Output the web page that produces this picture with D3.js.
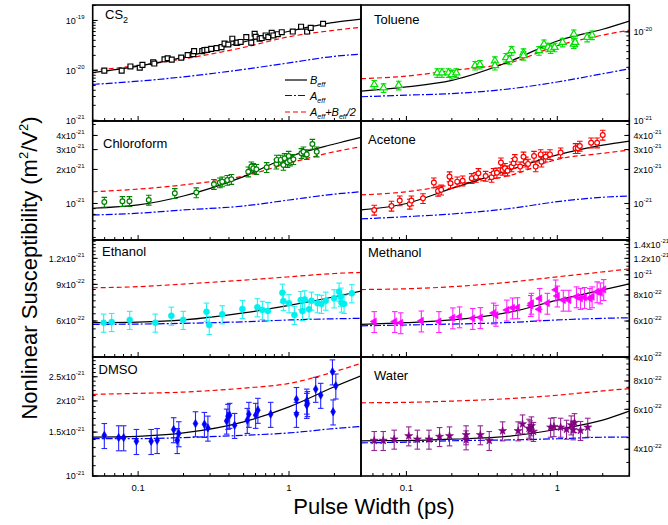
<!DOCTYPE html>
<html>
<head>
<meta charset="utf-8">
<script src="https://cdn.jsdelivr.net/npm/d3@7"></script>
<style>
  body { margin: 0; background: #fff; }
  text { font-family: "Liberation Sans", Arial, sans-serif; }
</style>
</head>
<body>
<script>
// ---- data (pulse width in ps, susceptibility in the panel unit) ----
var fitX = [0.05, 0.1, 0.2, 0.5, 1, 2, 3];

// CS2, x1e-20
var cs2X = [0.0597,0.0778,0.0889,0.1025,0.1068,0.1258,0.128,0.1496,0.157,0.167,0.193,0.213,0.232,0.235,0.266,0.275,0.287,0.305,0.331,0.357,0.374,0.396,0.421,0.448,0.454,0.478,0.521,0.562,0.592,0.601,0.639,0.659,0.700,0.729,0.768,0.788,0.842,0.895,1.059,1.202,1.318,1.393,1.682];
var cs2Y = [0.99,0.99,1.2,1.13,1.29,1.46,1.37,1.67,1.75,1.64,1.80,2.03,2.12,2.43,2.43,2.55,2.58,2.70,2.79,2.92,3.44,3.30,4.31,3.54,3.60,3.71,4.64,3.60,5.41,4.72,4.31,4.44,5.01,4.64,5.66,5.01,5.31,5.82,6.0,7.5,6.0,7.1,8.6];
var cs2B = [0.90,1.22,1.83,3.71,6.08,9.14,10.65];
var cs2A = [0.525,0.608,0.743,1.047,1.416,1.915,2.125];
var cs2AB = [1.0,1.25,1.70,2.88,4.72,6.37,7.29];

// Toluene, x1e-21
var tolX = [0.0612,0.0705,0.0889,0.160,0.172,0.190,0.200,0.214,0.285,0.307,0.386,0.386,0.458,0.482,0.498,0.597,0.597,0.756,0.816,0.867,0.903,0.960,1.084,1.286,1.286,1.314,1.577,1.701];
var tolY = [2.56,2.35,2.51,3.47,3.47,3.47,3.33,3.47,4.19,4.30,4.72,4.19,5.14,4.88,6.15,5.80,5.41,6.15,7.30,6.71,6.42,6.71,7.62,9.43,7.30,7.62,8.67,9.19];
var tolB = [2.16,2.41,2.86,4.76,7.9,10.7,13.2];
var tolA = [1.87,1.95,2.03,2.31,2.74,3.39,3.85];
var tolAB = [2.98,3.19,3.69,4.57,6.99,9.19,10.44];

// Chloroform, x1e-21
var chlX = [0.0597,0.0787,0.0876,0.1176,0.175,0.243,0.318,0.348,0.361,0.390,0.415,0.537,0.563,0.580,0.608,0.711,0.825,0.829,0.881,0.918,0.936,0.976,0.995,1.016,1.069,1.208,1.247,1.311,1.429,1.527];
var chlY = [1.03,1.045,1.045,1.074,1.23,1.25,1.48,1.53,1.56,1.61,1.64,1.91,2.12,2.05,2.01,2.09,2.24,2.43,2.43,2.19,2.51,2.32,2.63,2.39,2.46,2.78,2.87,2.72,3.36,2.87];
var chlB = [0.907,0.97,1.165,1.73,2.59,3.36,3.85];
var chlA = [0.79,0.82,0.876,0.95,1.074,1.21,1.27];
var chlAB = [1.27,1.34,1.46,1.75,2.27,2.87,3.18];

// Acetone, x1e-21
var aceX = [0.0612,0.0796,0.0903,0.1052,0.1079,0.1288,0.152,0.162,0.170,0.193,0.196,0.217,0.236,0.271,0.289,0.300,0.335,0.367,0.378,0.398,0.423,0.434,0.450,0.468,0.498,0.513,0.523,0.567,0.597,0.618,0.640,0.701,0.719,0.776,0.785,0.838,0.894,1.052,1.321,1.368,1.41,1.675,1.836,2.0];
var aceY = [0.876,0.95,1.06,0.99,1.06,1.11,1.53,1.29,1.32,1.73,1.51,1.56,1.59,1.67,1.71,1.85,1.75,1.71,1.85,1.87,2.30,1.98,2.05,1.95,2.12,2.27,2.46,2.12,2.59,2.34,2.24,2.63,2.12,2.72,2.34,2.59,2.72,2.82,3.08,3.08,3.23,3.45,3.45,4.04];
var aceB = [0.876,1.0,1.36,2.01,2.69,3.29,3.57];
var aceA = [0.73,0.764,0.807,0.907,1.037,1.135,1.165];
var aceAB = [1.19,1.27,1.46,1.79,2.46,2.78,2.97];

// Ethanol, x1e-22
var ethX = [0.0591,0.0668,0.0880,0.130,0.166,0.199,0.284,0.296,0.361,0.491,0.617,0.666,0.725,0.904,0.918,1.0,1.086,1.196,1.227,1.271,1.358,1.409,1.544,1.641,1.753,1.99,2.148,2.204,2.228,2.318,2.608];
var ethY = [5.89,5.93,6.07,5.89,6.36,6.07,6.65,5.74,6.46,6.85,6.98,6.78,6.70,8.20,7.48,7.30,6.42,7.56,6.70,7.62,6.83,7.51,7.30,7.25,7.51,7.71,8.30,7.85,7.35,7.25,8.15];
var ethB = [5.89,5.93,6.07,6.56,7.13,7.85,8.36];
var ethA = [5.78,5.80,5.85,5.95,6.07,6.15,6.18];
var ethAB = [8.67,8.77,9.03,9.43,9.78,10.15,10.27];

// Methanol, x1e-22
var metX = [0.0612,0.0837,0.0917,0.1256,0.1643,0.203,0.225,0.275,0.309,0.378,0.392,0.463,0.505,0.545,0.667,0.674,0.756,0.764,0.859,0.975,1.0,1.096,1.193,1.34,1.425,1.514,1.641,1.701,1.836,1.929,2.03];
var metY = [5.97,5.97,5.89,6.01,5.97,6.22,6.29,6.18,6.24,6.56,6.40,6.78,6.94,6.96,7.13,7.31,6.83,7.71,7.31,8.47,7.92,7.56,7.56,7.85,7.71,7.79,7.71,7.85,8.30,8.20,8.51];
var metB = [5.78,5.89,6.07,6.65,7.56,8.47,9.05];
var metA = [5.69,5.74,5.80,5.91,6.07,6.18,6.22];
var metAB = [8.50,8.57,8.77,9.25,9.78,10.33,10.68];

// DMSO, x1e-21
var dmsX = [0.0597,0.0743,0.0802,0.0974,0.122,0.1337,0.172,0.1816,0.186,0.240,0.275,0.290,0.386,0.394,0.404,0.436,0.529,0.542,0.601,0.622,0.756,1.12,1.12,1.311,1.311,1.324,1.503,1.622,1.941,1.96,2.043];
var dmsY = [1.456,1.426,1.426,1.378,1.378,1.39,1.536,1.39,1.48,1.623,1.613,1.559,1.663,1.738,1.754,1.598,1.674,1.770,1.754,1.837,1.770,2.03,1.770,2.0,1.923,1.955,2.23,2.11,2.62,1.81,2.30];
var dmsB = [1.433,1.443,1.488,1.648,1.893,2.28,2.52];
var dmsA = [1.412,1.412,1.426,1.456,1.488,1.55,1.58];
var dmsAB = [2.125,2.145,2.17,2.25,2.35,2.62,2.83];

// Water, x1e-22
var watX = [0.0612,0.0702,0.083,0.1036,0.1182,0.1411,0.1658,0.193,0.2486,0.2486,0.309,0.354,0.434,0.550,0.588,0.650,0.660,0.674,0.695,0.903,0.950,1.052,1.151,1.236,1.274,1.30,1.425,1.591];
var watY = [4.37,4.37,4.43,4.58,4.43,4.43,4.55,4.58,4.63,4.40,4.63,4.37,4.82,4.82,5.17,4.95,4.87,5.07,4.79,5.0,5.03,5.0,4.90,5.12,4.87,5.24,4.84,5.0];
var watB = [4.36,4.37,4.43,4.58,4.90,5.38,5.89];
var watA = [4.27,4.30,4.36,4.40,4.45,4.52,4.53];
var watAB = [6.41,6.44,6.52,6.70,6.92,7.23,7.40];

// relative error bars
var errRel = {cs2: 0, tol: 0.11, chl: 0.10, ace: 0.10, eth: 0.10, met: 0.115, dms: 0.115, wat: 0.096};

// labelled y ticks
var cs2Ticks = [1e-21, 1e-20, 1e-19];
var tolTicks = [1e-21, 1e-20];
var chlTicks = [1e-21, 2e-21, 3e-21, 4e-21];
var aceTicks = [1e-21, 2e-21, 3e-21, 4e-21];
var ethTicks = [6e-22, 9e-22, 1.2e-21];
var metTicks = [4e-22, 6e-22, 8e-22, 1e-21, 1.2e-21, 1.4e-21];
var dmsTicks = [1e-21, 1.5e-21, 2e-21, 2.5e-21];
var watTicks = [4e-22, 6e-22, 8e-22];
var xMajor = [0.1, 1];

// ---- layout ----
var W = 668, H = 525;
var colX = [92.7, 361, 629.3];
var rowY = [5, 121, 240, 357, 476];

function logMinor(lo, hi) {
    var out = [];
    for (var e = -23; e <= -18; e++)
        for (var k = 1; k <= 9; k++) {
            var v = k * Math.pow(10, e);
            if (v >= lo && v <= hi) out.push(v);
        }
    return out;
}
function steps(a, b, s, unit) {
    return d3.range(a, b + s / 2, s).map(function (v) { return v * unit; });
}

var panels = [
    {key: "cs2", label: "CS", sub: "2", col: 0, row: 0, unit: 1e-20, xs: cs2X, ys: cs2Y, B: cs2B, A: cs2A, AB: cs2AB,
        dom: [9.7e-22, 2.04e-19], ticks: cs2Ticks, minor: logMinor(9.7e-22, 2.04e-19), mark: "square", color: "#000", open: true, lx: 105, ly: 18.5},
    {key: "tol", label: "Toluene", col: 1, row: 0, unit: 1e-21, xs: tolX, ys: tolY, B: tolB, A: tolA, AB: tolAB,
        dom: [1e-21, 2e-20], ticks: tolTicks, minor: logMinor(1e-21, 2e-20), mark: "triangle", color: "#00e000", open: true, lx: 374, ly: 24},
    {key: "chl", label: "Chloroform", col: 0, row: 1, unit: 1e-21, xs: chlX, ys: chlY, B: chlB, A: chlA, AB: chlAB,
        dom: [4.75e-22, 5.37e-21], ticks: chlTicks, minor: logMinor(4.75e-22, 5.37e-21), mark: "circle", color: "#008000", open: true, lx: 103, ly: 147.5},
    {key: "ace", label: "Acetone", col: 1, row: 1, unit: 1e-21, xs: aceX, ys: aceY, B: aceB, A: aceA, AB: aceAB,
        dom: [4.75e-22, 5.37e-21], ticks: aceTicks, minor: logMinor(4.75e-22, 5.37e-21), mark: "circle", color: "#ff0000", open: true, lx: 368, ly: 143.5},
    {key: "eth", label: "Ethanol", col: 0, row: 2, unit: 1e-22, xs: ethX, ys: ethY, B: ethB, A: ethA, AB: ethAB,
        dom: [4.03e-22, 1.47e-21], ticks: ethTicks, minor: steps(4.5, 14.5, 0.5, 1e-22), mark: "circle", color: "#00f0f0", open: false, lx: 102, ly: 256},
    {key: "met", label: "Methanol", col: 1, row: 2, unit: 1e-22, xs: metX, ys: metY, B: metB, A: metA, AB: metAB,
        dom: [4.03e-22, 1.47e-21], ticks: metTicks, minor: steps(4.5, 14.5, 0.5, 1e-22), mark: "left", color: "#ff00ff", open: false, lx: 368, ly: 256.5},
    {key: "dms", label: "DMSO", col: 0, row: 3, unit: 1e-21, xs: dmsX, ys: dmsY, B: dmsB, A: dmsA, AB: dmsAB,
        dom: [1e-21, 3e-21], ticks: dmsTicks, minor: steps(1, 3, 0.1, 1e-21), mark: "diamond", color: "#0000ff", open: false, lx: 98.5, ly: 373.5},
    {key: "wat", label: "Water", col: 1, row: 3, unit: 1e-22, xs: watX, ys: watY, B: watB, A: watA, AB: watAB,
        dom: [3.05e-22, 1.02e-21], ticks: watTicks, minor: steps(3.5, 10, 0.5, 1e-22), mark: "star", color: "#800080", open: false, lx: 374, ly: 379.5}
];

var xMinor = [0.05, 0.06, 0.07, 0.08, 0.09, 0.2, 0.3, 0.4, 0.5, 0.6, 0.7, 0.8, 0.9, 2, 3];

var svg = d3.select("body").append("svg")
    .attr("width", W).attr("height", H);

function sciParts(v) {
    var e = Math.floor(Math.log10(v) + 1e-9);
    var m = +(v / Math.pow(10, e)).toFixed(2);
    return {m: m === 1 ? "10" : m + "x10", e: String(e)};
}

panels.forEach(function (p, idx) {
    var x0 = colX[p.col], x1 = colX[p.col + 1];
    var yT = rowY[p.row], yB = rowY[p.row + 1];
    var x = d3.scaleLog().domain([0.05, 3]).range([x0, x1]);
    var y = d3.scaleLog().domain(p.dom).range([yB, yT]);

    var clipId = "clip" + idx;
    svg.append("clipPath").attr("id", clipId).append("rect")
        .attr("x", x0).attr("y", yT).attr("width", x1 - x0).attr("height", yB - yT);
    var g = svg.append("g").attr("clip-path", "url(#" + clipId + ")");

    var line = d3.line()
        .x(function (d) { return x(d[0]); })
        .y(function (d) { return y(d[1] * p.unit); })
        .curve(d3.curveMonotoneX);

    function pairs(arr) { return fitX.map(function (v, i) { return [v, arr[i]]; }); }

    g.append("path").attr("d", line(pairs(p.A)))
        .attr("fill", "none").attr("stroke", "#0000ff").attr("stroke-width", 1.2)
        .attr("stroke-dasharray", "7,2,2,2");
    g.append("path").attr("d", line(pairs(p.AB)))
        .attr("fill", "none").attr("stroke", "#ff0000").attr("stroke-width", 1.2)
        .attr("stroke-dasharray", "5,3");
    g.append("path").attr("d", line(pairs(p.B)))
        .attr("fill", "none").attr("stroke", "#000").attr("stroke-width", 1.2);

    var pts = p.xs.map(function (v, i) { return {x: v, y: p.ys[i] * p.unit}; });
    var er = errRel[p.key];
    if (er > 0) {
        var eb = g.append("g").attr("stroke", p.color).attr("stroke-width", 1.1)
            .attr("opacity", p.open ? 1 : 0.85);
        pts.forEach(function (d) {
            var cx = x(d.x), hi = y(d.y * (1 + er)), lo = y(d.y * (1 - er));
            eb.append("line").attr("x1", cx).attr("x2", cx).attr("y1", hi).attr("y2", lo);
            eb.append("line").attr("x1", cx - 2.8).attr("x2", cx + 2.8).attr("y1", hi).attr("y2", hi);
            eb.append("line").attr("x1", cx - 2.8).attr("x2", cx + 2.8).attr("y1", lo).attr("y2", lo);
        });
    }

    var mk = g.append("g");
    pts.forEach(function (d) {
        var cx = x(d.x), cy = y(d.y), el;
        if (p.mark === "circle") {
            el = mk.append("circle").attr("cx", cx).attr("cy", cy).attr("r", p.open ? 2.4 : 3);
        } else {
            var t = {square: d3.symbolSquare, triangle: d3.symbolTriangle, left: d3.symbolTriangle,
                diamond: d3.symbolDiamond, star: d3.symbolStar}[p.mark];
            var sz = {square: 24, triangle: 22, left: 22, diamond: 20, star: 20}[p.mark];
            el = mk.append("path").attr("d", d3.symbol().type(t).size(sz)())
                .attr("transform", "translate(" + cx + "," + cy + ")" + (p.mark === "left" ? " rotate(-90)" : ""));
        }
        if (p.open) el.attr("fill", "#fff").attr("stroke", p.color).attr("stroke-width", 1.2);
        else el.attr("fill", p.color).attr("stroke", p.color).attr("stroke-width", 0.6);
    });

    // frame
    svg.append("rect").attr("x", x0).attr("y", yT).attr("width", x1 - x0).attr("height", yB - yT)
        .attr("fill", "none").attr("stroke", "#000").attr("stroke-width", 1.6);

    // bottom ticks (inward)
    var tk = svg.append("g").attr("stroke", "#000").attr("stroke-width", 1);
    xMajor.forEach(function (v) {
        tk.append("line").attr("x1", x(v)).attr("x2", x(v)).attr("y1", yB).attr("y2", yB - 5);
    });
    xMinor.forEach(function (v) {
        tk.append("line").attr("x1", x(v)).attr("x2", x(v)).attr("y1", yB).attr("y2", yB - 3);
    });
    if (p.row === 3) {
        xMajor.forEach(function (v) {
            svg.append("text").attr("x", x(v)).attr("y", 490.5).attr("text-anchor", "middle")
                .attr("font-size", 9.5).text(v === 1 ? "1" : "0.1");
        });
    }

    // y ticks on outer side of the grid
    var ax = p.col === 0 ? x0 : x1, dir = p.col === 0 ? 1 : -1;
    p.minor.forEach(function (v) {
        tk.append("line").attr("x1", ax).attr("x2", ax + dir * 3).attr("y1", y(v)).attr("y2", y(v));
    });
    p.ticks.forEach(function (v) {
        var yy = y(v);
        tk.append("line").attr("x1", ax).attr("x2", ax + dir * 5).attr("y1", yy).attr("y2", yy);
        var s = sciParts(v);
        var t = svg.append("text")
            .attr("x", p.col === 0 ? 84.5 : 633.5).attr("y", yy + 3.2)
            .attr("text-anchor", p.col === 0 ? "end" : "start");
        t.append("tspan").attr("font-size", 9).text(s.m);
        t.append("tspan").attr("font-size", 6).attr("dy", -4.5).text(s.e);
    });

    // panel name
    var lab = svg.append("text").attr("x", p.lx).attr("y", p.ly).attr("font-size", 13).text(p.label);
    if (p.sub) lab.append("tspan").attr("font-size", 9).attr("dy", 4).text(p.sub);
});

// legend in the CS2 panel
var legend = [
    {y: 80, color: "#000", dash: null, parts: [["B", ""], ["eff", "s"]]},
    {y: 95.5, color: "#0000ff", dash: "7,2,2,2", parts: [["A", ""], ["eff", "s"]]},
    {y: 112, color: "#ff0000", dash: "5,3", parts: [["A", ""], ["eff", "s"], ["+B", "b"], ["eff", "s"], ["/2", "b"]]}
];
legend.forEach(function (l) {
    svg.append("line").attr("x1", 285).attr("x2", 307).attr("y1", l.y).attr("y2", l.y)
        .attr("stroke", l.color).attr("stroke-width", 1.2).attr("stroke-dasharray", l.dash);
    var t = svg.append("text").attr("x", 310).attr("y", l.y + 4).attr("font-size", 11).attr("font-style", "italic");
    var low = false;
    l.parts.forEach(function (pt) {
        var ts = t.append("tspan").text(pt[0]);
        if (pt[1] === "s") { ts.attr("font-size", 7).attr("dy", 3); low = true; }
        else if (low) { ts.attr("dy", -3); low = false; }
    });
});

// axis titles
svg.append("text").attr("x", 374).attr("y", 514).attr("text-anchor", "middle")
    .attr("font-size", 22).text("Pulse Width (ps)");
var yt = svg.append("text").attr("transform", "translate(37,268) rotate(-90)")
    .attr("text-anchor", "middle").attr("font-size", 22);
yt.append("tspan").text("Nonlinear Susceptibility (m");
yt.append("tspan").attr("font-size", 13).attr("dy", -9).text("2");
yt.append("tspan").attr("dy", 9).text("/V");
yt.append("tspan").attr("font-size", 13).attr("dy", -9).text("2");
yt.append("tspan").attr("dy", 9).text(")");
</script>
</body>
</html>
